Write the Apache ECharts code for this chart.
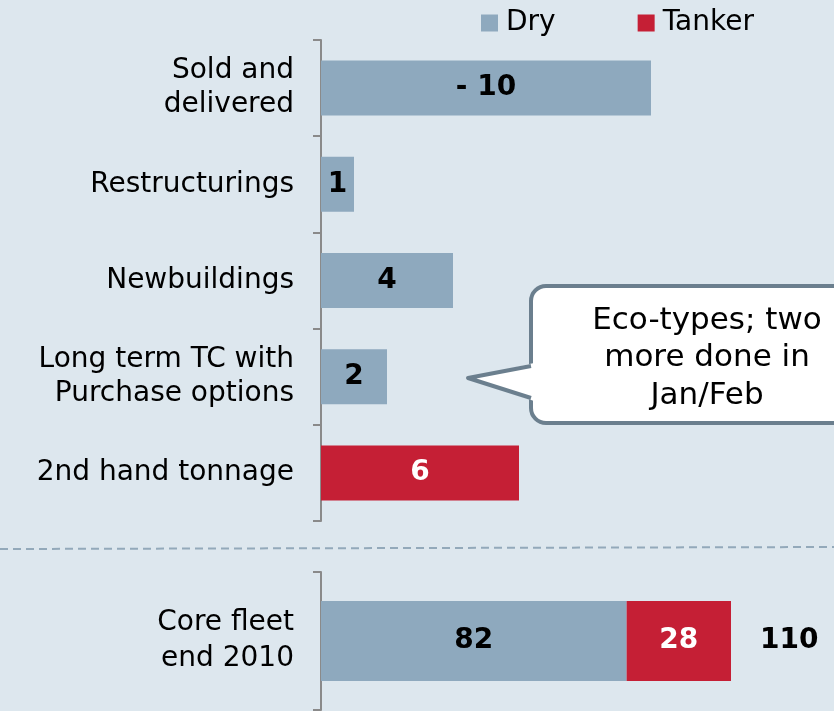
<!DOCTYPE html>
<html><head><meta charset="utf-8">
<script src="https://cdn.jsdelivr.net/npm/echarts@6/dist/echarts.min.js"></script>
<style>html,body{margin:0;padding:0;background:#dde7ee;}#c{width:834px;height:711px;}</style>
</head><body><div id="c"></div>
<script>
const topCategories = ['Sold and\ndelivered', 'Restructurings', 'Newbuildings', 'Long term TC with\nPurchase options', '2nd hand tonnage'];
const topDry = [-10, 1, 4, 2, null];
const topTanker = [null, null, null, null, 6];
const coreCategories = ['Core fleet\nend 2010'];
const coreDry = [82];
const coreTanker = [28];
const coreTotal = [110];
const calloutLines = ['Eco-types; two', 'more done in', 'Jan/Feb'];

const DRY = '#8ea9be', TANKER = '#c51f35', AXIS = '#8a8a8a';
const FONT = 'DejaVu Sans';
const chart = echarts.init(document.getElementById('c'), null, {renderer: 'canvas'});

function yAx(idx, cats, lh) {
  return {
    type: 'category', gridIndex: idx, data: cats, inverse: true,
    axisLine: {show: true, lineStyle: {color: AXIS, width: 2}},
    axisTick: {show: true, length: 8, lineStyle: {color: AXIS, width: 2}},
    axisLabel: {color: '#000', fontFamily: FONT, fontSize: 28, lineHeight: lh, margin: 27, align: 'right'}
  };
}
function xAx(idx, max) {
  return {type: 'value', gridIndex: idx, min: 0, max: max, show: false, splitLine: {show: false}};
}
const lbl = (color) => ({show: true, position: 'inside', color: color, fontFamily: FONT, fontSize: 28, fontWeight: 'bold',
  formatter: p => (p.data.raw < 0 ? '- ' + Math.abs(p.data.raw) : String(p.data.raw))});
const mk = arr => arr.map(v => v == null ? null : {value: Math.abs(v), raw: v});

chart.setOption({
  backgroundColor: '#dde7ee',
  animation: false,
  legend: {
    data: ['Dry', 'Tanker'], left: 476, top: 4, icon: 'rect', itemWidth: 17, itemHeight: 17, itemGap: 82,
    textStyle: {fontFamily: FONT, fontSize: 28, color: '#000', padding: [0, 0, 0, 3]}
  },
  grid: [
    {left: 321, top: 40, width: 330, height: 481},
    {left: 321, top: 572, width: 410, height: 138}
  ],
  xAxis: [xAx(0, 10), xAx(1, 110)],
  yAxis: [yAx(0, topCategories, 34), yAx(1, coreCategories, 36)],
  series: [
    {name: 'Dry', type: 'bar', xAxisIndex: 0, yAxisIndex: 0, stack: 't', barWidth: 55,
     itemStyle: {color: DRY}, label: lbl('#000'), data: mk(topDry)},
    {name: 'Tanker', type: 'bar', xAxisIndex: 0, yAxisIndex: 0, stack: 't', barWidth: 55,
     itemStyle: {color: TANKER}, label: lbl('#fff'), data: mk(topTanker)},
    {name: 'Dry', type: 'bar', xAxisIndex: 1, yAxisIndex: 1, stack: 'c', barWidth: 80,
     itemStyle: {color: DRY}, label: lbl('#000'), data: mk(coreDry)},
    {name: 'Tanker', type: 'bar', xAxisIndex: 1, yAxisIndex: 1, stack: 'c', barWidth: 80,
     itemStyle: {color: TANKER}, label: lbl('#fff'), data: mk(coreTanker)},
    {name: 'Total', type: 'bar', xAxisIndex: 1, yAxisIndex: 1, stack: 'c', barWidth: 80,
     itemStyle: {color: 'rgba(0,0,0,0)'},
     label: {show: true, position: 'right', distance: 29, color: '#000', fontFamily: FONT, fontSize: 28, fontWeight: 'bold',
       formatter: p => String(coreTotal[p.dataIndex])},
     data: coreTotal.map(() => 0)}
  ],
  graphic: [
    {type: 'line', shape: {x1: 0, y1: 549, x2: 834, y2: 547}, style: {stroke: '#93a9ba', lineWidth: 2, lineDash: [8, 5]}},
    {type: 'rect', shape: {x: 531, y: 286, width: 340, height: 137, r: 15},
     style: {fill: '#fff', stroke: '#6b7f8e', lineWidth: 4}},
    {type: 'polygon', shape: {points: [[534, 363], [468, 378], [534, 401]]}, style: {fill: '#fff'}},
    {type: 'polyline', shape: {points: [[531, 366], [468, 378], [531, 398]]}, style: {stroke: '#6b7f8e', lineWidth: 4, fill: null, lineJoin: 'round'}},
    {type: 'text', x: 707, y: 302, style: {text: calloutLines.join('\n'), fill: '#000', fontFamily: FONT, fontSize: 31,
      align: 'center', lineHeight: 37.5}}
  ]
});
</script></body></html>
